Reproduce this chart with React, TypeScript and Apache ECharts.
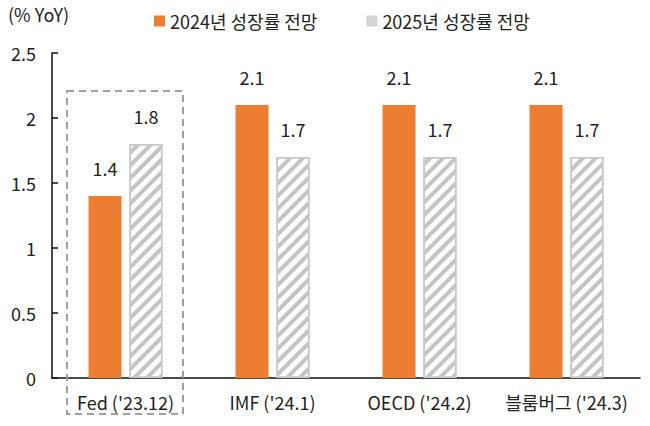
import React, { useEffect, useRef } from "react";
import * as echarts from "echarts";

const categories = ["Fed ('23.12)", "IMF ('24.1)", "OECD ('24.2)", "블룸버그 ('24.3)"];
const series2024 = [1.4, 2.1, 2.1, 2.1];
const series2025 = [1.8, 1.7, 1.7, 1.7];
const seriesNames = ["2024년 성장률 전망", "2025년 성장률 전망"];
const yTicks = { min: 0, max: 2.5, interval: 0.5 };

const FONT = "'Noto Sans CJK KR', 'Noto Sans', sans-serif";

export default function App() {
  const ref = useRef<HTMLDivElement>(null);
  useEffect(() => {
    if (!ref.current) return;
    const chart = echarts.init(ref.current, null, { renderer: "svg" });
    const labelStyle = {
      show: true,
      position: "top",
      distance: 19,
      fontSize: 18,
      color: "#222",
      fontFamily: FONT,
    };
    chart.setOption({
      animation: false,
      textStyle: { fontFamily: FONT },
      legend: {
        top: 7,
        left: 149,
        itemWidth: 11,
        itemHeight: 11,
        itemGap: 49,
        icon: "rect",
        textStyle: { fontSize: 18, color: "#222", fontFamily: FONT },
        data: [
          { name: seriesNames[0] },
          { name: seriesNames[1], itemStyle: { color: "#d4d4d4", borderWidth: 0, decal: "none" } },
        ],
      },
      graphic: [
        {
          type: "text",
          left: 8,
          top: 5,
          style: { text: "(% YoY)", fontSize: 18, fill: "#222", fontFamily: FONT },
        },
        {
          type: "rect",
          shape: { x: 67, y: 91, width: 116, height: 323 },
          style: { fill: "none", stroke: "#a0a0a0", lineWidth: 2, lineDash: [7, 5] },
          z: 10,
        },
      ],
      grid: { left: 52, right: 10, top: 53, bottom: 48, outerBoundsMode: "none", containLabel: false },
      xAxis: {
        type: "category",
        data: categories,
        axisLine: { lineStyle: { color: "#111", width: 1.5 } },
        axisTick: { show: false },
        axisLabel: { fontSize: 18, color: "#222", margin: 15, fontFamily: FONT, interval: 0 },
      },
      yAxis: {
        type: "value",
        min: yTicks.min,
        max: yTicks.max,
        interval: yTicks.interval,
        splitLine: { show: false },
        axisLine: { show: true, lineStyle: { color: "#111", width: 1.5 } },
        axisTick: { show: true, inside: true, length: 6, lineStyle: { color: "#111", width: 1.5 } },
        axisLabel: { fontSize: 18, color: "#222", margin: 16, fontFamily: FONT },
      },
      series: [
        {
          name: seriesNames[0],
          type: "bar",
          data: series2024,
          barWidth: 33,
          barGap: "24%",
          itemStyle: { color: "#ED7D31" },
          label: labelStyle,
        },
        {
          name: seriesNames[1],
          type: "bar",
          data: series2025,
          barWidth: 33,
          itemStyle: {
            color: "#ffffff",
            borderColor: "#c8c8c8",
            borderWidth: 1.5,
            decal: {
              symbol: "rect",
              color: "#c4c4c4",
              backgroundColor: "#ffffff",
              dashArrayX: [1, 0],
              dashArrayY: [4, 5],
              rotation: -Math.PI / 4,
            },
          },
          label: labelStyle,
        },
      ],
    });
    return () => chart.dispose();
  }, []);
  return (
    <div
      ref={ref}
      style={{ position: "absolute", left: 0, top: 0, width: 650, height: 426 }}
    />
  );
}
